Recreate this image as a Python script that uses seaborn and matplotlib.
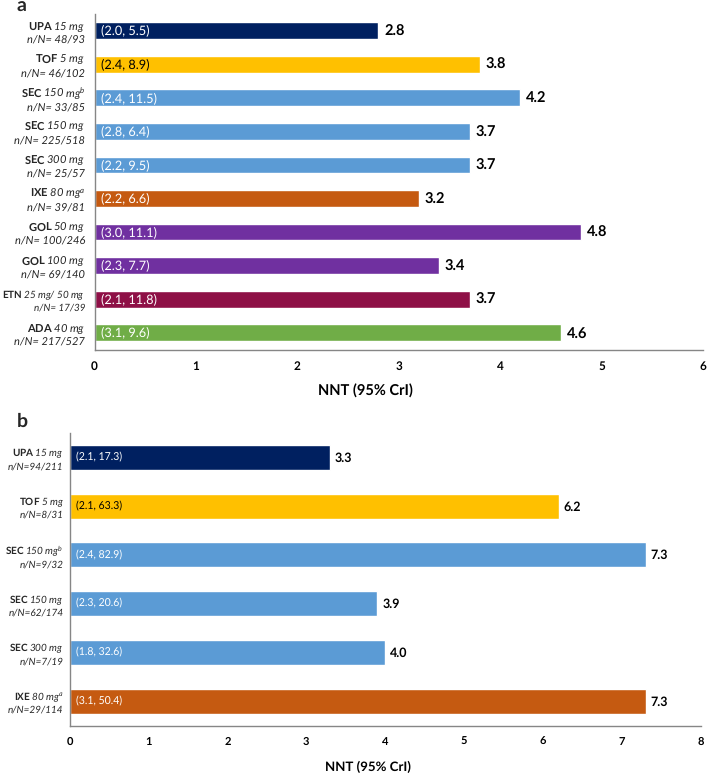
import matplotlib
matplotlib.use('Agg')
import matplotlib.pyplot as plt
import pandas as pd
import seaborn as sns

sns.set_theme(style='white')
plt.rcParams['font.family'] = ['Lato', 'DejaVu Sans']
plt.rcParams['mathtext.fontset'] = 'custom'
plt.rcParams['mathtext.bf'] = 'Lato:bold'
plt.rcParams['mathtext.it'] = 'Lato:italic'
plt.rcParams['mathtext.rm'] = 'Lato'
plt.rcParams['text.hinting'] = 'no_hinting'

NAVY = '#002060'
YELLOW = '#FFC000'
BLUE = '#5B9BD5'
ORANGE = '#C55A11'
PURPLE = '#7030A0'
CRIMSON = '#8E1046'
GREEN = '#70AD47'
AXIS_GREY = '#868686'

# panel a
drugs_a = ['UPA', 'TOF', 'SEC', 'SEC', 'SEC', 'IXE', 'GOL', 'GOL', 'ETN', 'ADA']
doses_a = ['15 mg', '5 mg', '150 mg$^{b}$', '150 mg', '300 mg', '80 mg$^{a}$',
           '50 mg', '100 mg', '25 mg/ 50 mg', '40 mg']
counts_a = ['n/N= 48/93', 'n/N= 46/102', 'n/N= 33/85', 'n/N= 225/518', 'n/N= 25/57',
            'n/N= 39/81', 'n/N= 100/246', 'n/N= 69/140', 'n/N= 17/39', 'n/N= 217/527']
nnt_a = [2.8, 3.8, 4.2, 3.7, 3.7, 3.2, 4.8, 3.4, 3.7, 4.6]
cri_a = ['(2.0, 5.5)', '(2.4, 8.9)', '(2.4, 11.5)', '(2.8, 6.4)', '(2.2, 9.5)',
         '(2.2, 6.6)', '(3.0, 11.1)', '(2.3, 7.7)', '(2.1, 11.8)', '(3.1, 9.6)']
colors_a = [NAVY, YELLOW, BLUE, BLUE, BLUE, ORANGE, PURPLE, PURPLE, CRIMSON, GREEN]

# panel b
drugs_b = ['UPA', 'TOF', 'SEC', 'SEC', 'SEC', 'IXE']
doses_b = ['15 mg', '5 mg', '150 mg$^{b}$', '150 mg', '300 mg', '80 mg$^{a}$']
counts_b = ['n/N=94/211', 'n/N=8/31', 'n/N=9/32', 'n/N=62/174', 'n/N=7/19', 'n/N=29/114']
nnt_b = [3.3, 6.2, 7.3, 3.9, 4.0, 7.3]
cri_b = ['(2.1, 17.3)', '(2.1, 63.3)', '(2.4, 82.9)', '(2.3, 20.6)', '(1.8, 32.6)', '(3.1, 50.4)']
colors_b = [NAVY, YELLOW, BLUE, BLUE, BLUE, ORANGE]

W, H = 708, 777
fig = plt.figure(figsize=(W / 100, H / 100), dpi=100)


def draw_panel(rect, drugs, doses, counts, nnt, cri, colors, xmax, width, lab_size, lab_pad,
               cri_size, val_size, val_off, tick_size, xlab_size, xlab_pos):
    left, top, right, bottom = rect
    ax = fig.add_axes([left / W, 1 - bottom / H, (right - left) / W, (bottom - top) / H])
    labels = [f'$\\mathbf{{{d}}}$ {s}\n{c}' for d, s, c in zip(drugs, doses, counts)]
    df = pd.DataFrame({'label': labels, 'nnt': nnt})
    sns.barplot(data=df, x='nnt', y='label', hue='label', palette=colors, dodge=False,
                width=width, legend=False, saturation=1, ax=ax)
    for i, v in enumerate(nnt):
        ax.annotate(f'{v:.1f}', xy=(v, i), xytext=(val_off, -0.5), textcoords='offset points',
                    va='center', ha='left', fontsize=val_size, fontweight='bold', color='black')
        ax.annotate(cri[i], xy=(0, i), xytext=(4.5, 0), textcoords='offset points',
                    va='center', ha='left', fontsize=cri_size,
                    color='black' if colors[i] == YELLOW else 'white')
    ax.set_xlim(0, xmax)
    ax.set_xticks(range(xmax + 1))
    ax.set_xlabel('')
    ax.set_ylabel('')
    ax.tick_params(axis='x', length=3, width=1, color=AXIS_GREY, labelsize=tick_size, pad=5)
    ax.tick_params(axis='y', length=0, pad=lab_pad)
    for t in ax.get_xticklabels():
        t.set_fontweight('bold')
        t.set_color('black')
    for t, dose in zip(ax.get_yticklabels(), doses):
        # the long ETN dose only fits the margin a bit smaller
        t.set_fontsize(lab_size - 0.9 if len(dose) > 11 and '$' not in dose else lab_size)
        t.set_fontstyle('italic')
        t.set_color('#262626')
        t.set_ha('right')
    for s in ['top', 'right']:
        ax.spines[s].set_visible(False)
    for s in ['left', 'bottom']:
        ax.spines[s].set_color(AXIS_GREY)
        ax.spines[s].set_linewidth(1)
    fig.text(xlab_pos[0] / W, 1 - xlab_pos[1] / H, 'NNT (95% CrI)', ha='center', va='center',
             fontsize=xlab_size, fontweight='bold', color='black')
    return ax


draw_panel((94.5, 14, 703, 349.5), drugs_a, doses_a, counts_a, nnt_a, cri_a, colors_a, 6, 0.5,
           8, 6.8, 9.2, 10.5, 4, 8.5, 10.5, (365, 391))
draw_panel((69.5, 433, 701, 725.5), drugs_b, doses_b, counts_b, nnt_b, cri_b, colors_b, 8, 0.51,
           7.2, 4.3, 7.6, 9, 3.5, 8, 9.5, (368, 767))

fig.text(17 / W, 1 - 11.5 / H, 'a', fontsize=14, fontweight='bold', ha='left', va='baseline')
fig.text(17 / W, 1 - 427 / H, 'b', fontsize=14, fontweight='bold', ha='left', va='baseline')

fig.savefig('out.png', dpi=100)
